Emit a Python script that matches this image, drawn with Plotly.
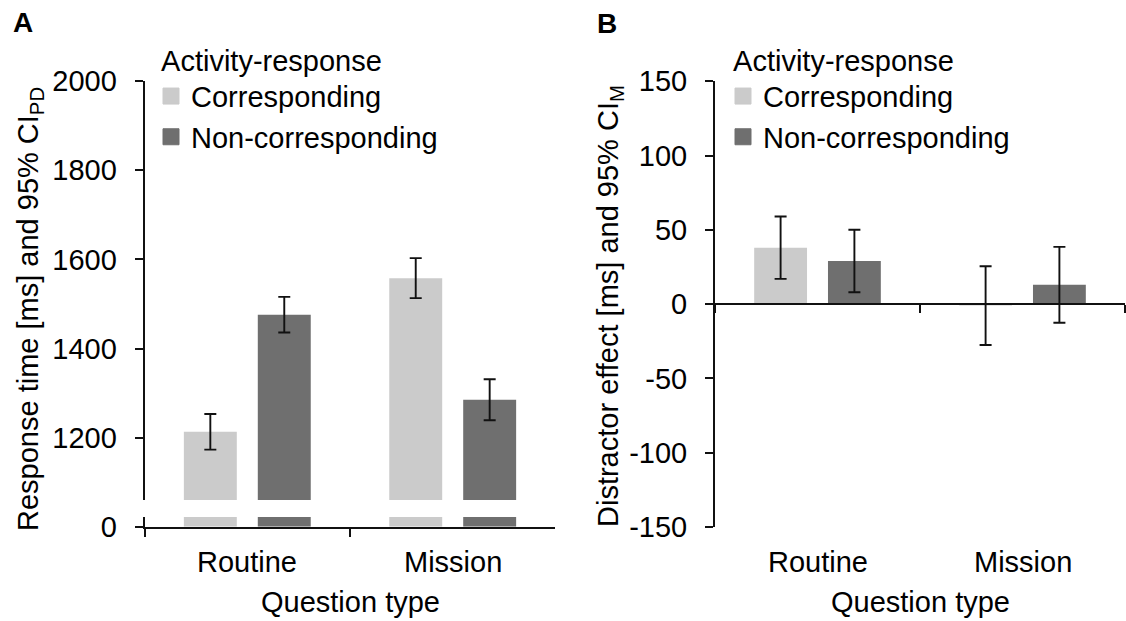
import plotly.graph_objects as go

# ---------------- data ----------------
categories = ["Routine", "Mission"]
series_names = ["Corresponding", "Non-corresponding"]

rt_corr = [1213, 1558]
rt_corr_ci = [40, 45]
rt_noncorr = [1476, 1285]
rt_noncorr_ci = [40, 46]

de_corr = [38, -1]
de_corr_ci = [21, 26.5]
de_noncorr = [29, 13]
de_noncorr_ci = [21, 25.5]

rt_ticks_upper = [1200, 1400, 1600, 1800, 2000]
rt_ticks_lower = [0]
de_ticks = [-150, -100, -50, 0, 50, 100, 150]
de_tick_labels = ["-150", "-100", "-50", "0", "50", "100", "150"]

# ---------------- style ----------------
W, H = 1126, 621
LIGHT = "#CBCBCB"
DARK = "#6F6F6F"
INK = "#111111"
FONT = "Liberation Sans, Arial, sans-serif"
FS = 29
colors = [LIGHT, DARK]


def px_x(p):
    return p / W


def px_y(p):
    return 1 - p / H


err_style = dict(type="data", color=INK, thickness=1.9, width=6, visible=True)

fig = go.Figure()

# Panel A - upper part (broken axis)
fig.add_trace(go.Bar(x=categories, y=rt_corr, name=series_names[0], marker_color=LIGHT,
                     error_y=dict(array=rt_corr_ci, **err_style),
                     xaxis="x", yaxis="y", showlegend=False))
fig.add_trace(go.Bar(x=categories, y=rt_noncorr, name=series_names[1], marker_color=DARK,
                     error_y=dict(array=rt_noncorr_ci, **err_style),
                     xaxis="x", yaxis="y", showlegend=False))
# Panel A - lower part
fig.add_trace(go.Bar(x=categories, y=rt_corr, name=series_names[0], marker_color=LIGHT,
                     xaxis="x", yaxis="y2", showlegend=False))
fig.add_trace(go.Bar(x=categories, y=rt_noncorr, name=series_names[1], marker_color=DARK,
                     xaxis="x", yaxis="y2", showlegend=False))
# Panel B
fig.add_trace(go.Bar(x=categories, y=de_corr, name=series_names[0], marker_color=LIGHT,
                     error_y=dict(array=de_corr_ci, **err_style),
                     xaxis="x2", yaxis="y3", showlegend=False))
fig.add_trace(go.Bar(x=categories, y=de_noncorr, name=series_names[1], marker_color=DARK,
                     error_y=dict(array=de_noncorr_ci, **err_style),
                     xaxis="x2", yaxis="y3", showlegend=False))

# legend entries (square swatches like the reference)
for leg, xa, ya in [("legend", "x", "y"), ("legend2", "x2", "y3")]:
    for name, col in zip(series_names, colors):
        fig.add_trace(go.Scatter(x=[None], y=[None], mode="markers", name=name,
                                 marker=dict(symbol="square", size=16, color=col,
                                             line=dict(color=col, width=1)),
                                 xaxis=xa, yaxis=ya, legend=leg, showlegend=True,
                                 hoverinfo="skip"))

axis_common = dict(showline=True, linecolor=INK, linewidth=2, ticks="outside",
                   ticklen=8, tickwidth=2, tickcolor=INK, showgrid=False, zeroline=False,
                   automargin=False,
                   tickfont=dict(family=FONT, size=FS, color="black"))

# domains
ax_dom = [px_x(144.6), px_x(555.4)]
bx_dom = [px_x(715), px_x(1125)]
a_up_dom = [px_y(500.0), px_y(81.2)]
a_lo_dom = [px_y(526.7), px_y(516.9)]
b_dom = [px_y(527.0), px_y(81.2)]
b_zero = b_dom[0] + 0.5 * (b_dom[1] - b_dom[0])

legend_common = dict(xanchor="left", yanchor="top", bgcolor="rgba(0,0,0,0)",
                     font=dict(family=FONT, size=FS, color="black"),
                     tracegroupgap=0, itemwidth=30, itemsizing="trace")

fig.update_layout(
    template="none",
    xaxis=dict(domain=ax_dom, anchor="y2", type="category", range=[-0.5, 1.5],
               tickson="boundaries", showticklabels=False, **axis_common),
    yaxis=dict(domain=a_up_dom, anchor="x", range=[1060, 2000], tickvals=rt_ticks_upper,
               ticklabelstandoff=12, **axis_common),
    yaxis2=dict(domain=a_lo_dom, anchor="x", range=[0, 22], tickvals=rt_ticks_lower,
                ticklabelstandoff=12, **axis_common),
    xaxis2=dict(domain=bx_dom, anchor="free", position=b_zero, type="category",
                range=[-0.5, 1.5], tickson="boundaries", showticklabels=False, **axis_common),
    yaxis3=dict(domain=b_dom, anchor="x2", range=[-150, 150], tickvals=de_ticks,
                ticktext=de_tick_labels, ticklabelstandoff=12, **axis_common),
    barmode="group",
    bargap=0.28,
    bargroupgap=0.284,
    width=W, height=H,
    margin=dict(l=0, r=0, t=0, b=0, pad=0),
    plot_bgcolor="white",
    paper_bgcolor="white",
    font=dict(family=FONT, size=FS, color="black"),
    legend=dict(title=dict(text="\u00a0Activity-response",
                           font=dict(family=FONT, size=FS, color="black")),
                x=px_x(151), y=px_y(33), **legend_common),
    legend2=dict(title=dict(text="\u00a0Activity-response",
                            font=dict(family=FONT, size=FS, color="black")),
                 x=px_x(723), y=px_y(33), **legend_common),
    showlegend=True,
)

annotations = []
# panel letters
annotations.append(dict(text="<b>A</b>", x=px_x(23), y=px_y(23), xref="paper", yref="paper",
                        showarrow=False, xanchor="center", yanchor="middle",
                        font=dict(family=FONT, size=28, color="black")))
annotations.append(dict(text="<b>B</b>", x=px_x(607), y=px_y(24), xref="paper", yref="paper",
                        showarrow=False, xanchor="center", yanchor="middle",
                        font=dict(family=FONT, size=28, color="black")))
# y titles
annotations.append(dict(text="Response time [ms] and 95% CI<sub>PD</sub>", x=px_x(30), y=px_y(309),
                        xref="paper", yref="paper", showarrow=False, textangle=-90,
                        xanchor="center", yanchor="middle", font=dict(family=FONT, size=FS)))
annotations.append(dict(text="Distractor effect [ms] and 95% CI<sub>M</sub>", x=px_x(610), y=px_y(306),
                        xref="paper", yref="paper", showarrow=False, textangle=-90,
                        xanchor="center", yanchor="middle", font=dict(family=FONT, size=FS)))
# category labels
for xref in ["x", "x2"]:
    for c in categories:
        annotations.append(dict(text=c, x=c, y=px_y(562), xref=xref, yref="paper",
                                showarrow=False, xanchor="center", yanchor="middle",
                                font=dict(family=FONT, size=FS)))
# x titles
annotations.append(dict(text="Question type", x=px_x(350), y=px_y(602), xref="paper", yref="paper",
                        showarrow=False, xanchor="center", yanchor="middle", font=dict(family=FONT, size=FS)))
annotations.append(dict(text="Question type", x=px_x(920), y=px_y(602), xref="paper", yref="paper",
                        showarrow=False, xanchor="center", yanchor="middle", font=dict(family=FONT, size=FS)))
fig.update_layout(annotations=annotations)

fig.write_html("out.html")
